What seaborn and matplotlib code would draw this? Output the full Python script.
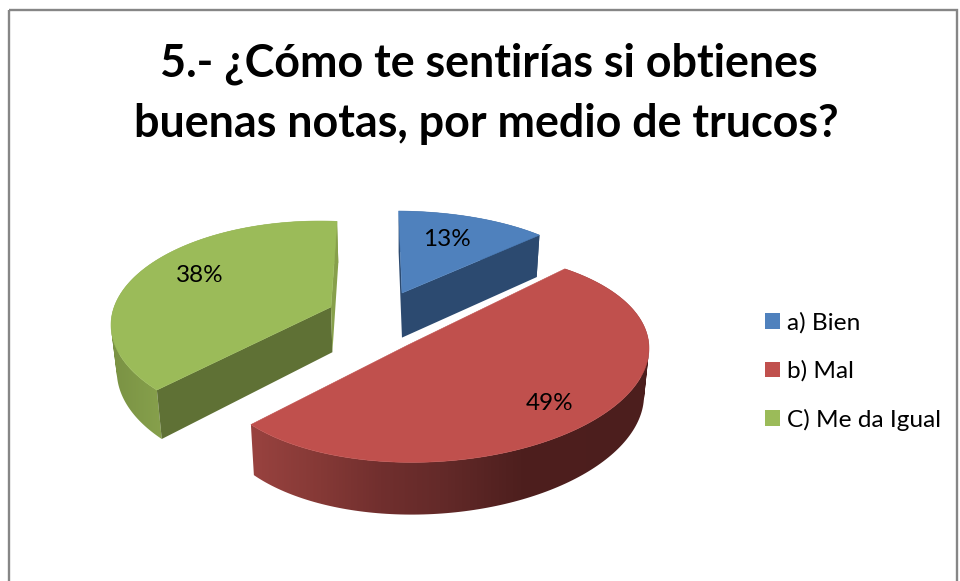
import numpy as np
import matplotlib
matplotlib.use("Agg")
import matplotlib.pyplot as plt
from matplotlib.patches import Patch, Rectangle, Polygon, PathPatch
from matplotlib.path import Path
import seaborn as sns

# ---- data ----
categories = ["a) Bien", "b) Mal", "C) Me da Igual"]
percent = [13, 49, 38]
title_lines = ["5.- ¿Cómo te sentirías si obtienes", "buenas notas, por medio de trucos?"]

# ---- style ----
sns.set_theme(style="white")
plt.rcParams["font.family"] = ["Lato", "DejaVu Sans"]
top_colors = sns.color_palette(["#4F81BD", "#C0504D", "#9BBB59"])
TEXT = "#000000"

# projected geometry of each exploded slice (pixels of the 960x581 canvas)
geom = [
    dict(apex=(402, 293), c=(395, 295), a=206, b=84, t0=1.0, gain=0.93, tilt=0.0),
    dict(apex=(408, 345), c=(430, 357), a=219, b=105, t0=38.0, gain=1.116, tilt=-0.04),
    dict(apex=(331, 307), c=(320, 325), a=209, b=104, t0=231.3, gain=0.975, tilt=0.0),
]
label_pos = [(447, 239.5), (549.5, 404), (200, 276)]
wall_stops = [
    dict(x=[400, 540], rgb=[(44, 74, 112), (44, 74, 112)]),
    dict(x=[254, 320, 380, 440, 520, 650],
         rgb=[(152, 66, 63), (133, 57, 54), (113, 47, 46), (100, 42, 41), (78, 31, 30), (76, 30, 29)]),
    dict(x=[112, 163], rgb=[(122, 146, 68), (135, 161, 76)]),
]
cut_start = [(44, 74, 112), None, (95, 113, 53)]   # face along the slice's first radius
cut_end = [(44, 74, 112), None, (135, 160, 75)]    # face along the slice's last radius


def drop(pts):
    """Project points of the top face onto the lower rim of the pie."""
    pts = np.asarray(pts, float)
    out = pts.copy()
    out[:, 0] = 400 + (pts[:, 0] - 400) * 0.98
    out[:, 1] = pts[:, 1] + 42 + (pts[:, 1] - 235) * 0.045
    return out


def rim(g, frac):
    sweep = np.linspace(0, frac * 360 * g["gain"], 160)
    t = np.radians(g["t0"] + sweep)
    x = g["c"][0] + g["a"] * np.sin(t)
    y = g["c"][1] - g["b"] * np.cos(t) + g["tilt"] * g["a"] * np.sin(t)
    return np.column_stack([x, y])


def swept_path(edge, low):
    """Union of the quads swept by the rim, all wound the same way."""
    parts = []
    for k in range(len(edge) - 1):
        q = np.array([edge[k], edge[k + 1], low[k + 1], low[k]])
        area = np.sum(q[:, 0] * np.roll(q[:, 1], -1) - np.roll(q[:, 0], -1) * q[:, 1])
        if area < 0:
            q = q[::-1]
        parts.append(Path(np.vstack([q, q[:1]]), closed=True))
    return Path.make_compound_path(*parts)


def rgb01(c):
    return tuple(v / 255 for v in c)


fig = plt.figure(figsize=(9.6, 5.81), dpi=100)
ax = fig.add_axes([0, 0, 1, 1])
ax.axis("off")

ax.add_patch(Rectangle((8.5, 10), 948.5, 590, fill=False, ec="#868686", lw=1.7, zorder=1))

for i, (g, p) in enumerate(zip(geom, percent)):
    edge = rim(g, p / 100)
    low = drop(edge)
    apex = np.array([g["apex"]], float)
    apex_low = drop(apex)
    z = 2 + i
    # outer wall: horizontal shading clipped to the surface swept by the rim
    outline = np.vstack([edge, low])
    x0, x1 = outline[:, 0].min(), outline[:, 0].max()
    y0, y1 = outline[:, 1].min(), outline[:, 1].max()
    xs = np.linspace(x0, x1, 400)
    stops = wall_stops[i]
    channels = np.array(stops["rgb"], float) / 255
    shade = np.stack([np.interp(xs, stops["x"], channels[:, n]) for n in range(3)], axis=-1)[None, :, :]
    wall = ax.imshow(shade, extent=(x0, x1, y1, y0), aspect="auto", zorder=z,
                     interpolation="bilinear")
    wall.set_clip_path(PathPatch(swept_path(edge, low), transform=ax.transData))
    # faces of the cut along both radii
    if cut_start[i]:
        quad = np.vstack([apex, edge[:1], low[:1], apex_low])
        ax.add_patch(Polygon(quad, closed=True, fc=rgb01(cut_start[i]), ec="none", zorder=z + 0.1))
    if cut_end[i]:
        quad = np.vstack([apex, edge[-1:], low[-1:], apex_low])
        ax.add_patch(Polygon(quad, closed=True, fc=rgb01(cut_end[i]), ec="none", zorder=z + 0.1))
    # top face
    ax.add_patch(Polygon(np.vstack([apex, edge]), closed=True, fc=top_colors[i],
                         ec=top_colors[i], lw=0.4, zorder=z + 0.2))
    ax.text(*label_pos[i], f"{p}%", ha="center", va="center", fontsize=17.5,
            color=TEXT, zorder=10)

ax.set_xlim(0, 960)
ax.set_ylim(581, 0)

ax.text(489, 63.5, title_lines[0], ha="center", va="center", fontsize=32.3,
        fontweight="bold", color=TEXT)
ax.text(486, 124, title_lines[1], ha="center", va="center", fontsize=32.3,
        fontweight="bold", color=TEXT)

handles = [Patch(fc=c, ec="none") for c in top_colors]
ax.legend(handles, categories, loc="upper left", bbox_to_anchor=(758 / 960, 1 - 305 / 581),
          frameon=False, fontsize=17.6, handlelength=0.614, handleheight=0.614,
          handletextpad=0.29, labelspacing=1.09, borderaxespad=0, borderpad=0.3,
          labelcolor=TEXT)

fig.savefig("out.png", dpi=100)
